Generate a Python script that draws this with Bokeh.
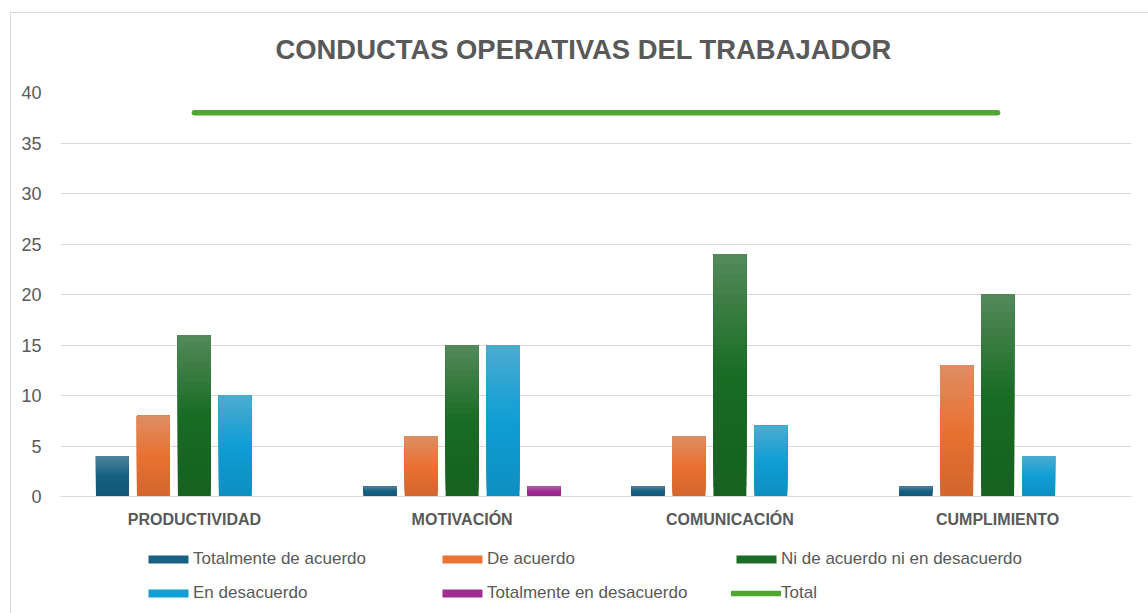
from bokeh.plotting import figure
from bokeh.models import (ColumnDataSource, FactorRange, FixedTicker, Legend, LegendItem)
from bokeh.transform import dodge
from bokeh.embed import file_html
from bokeh.resources import INLINE

# ---- data ----
categories = ["PRODUCTIVIDAD", "MOTIVACIÓN", "COMUNICACIÓN", "CUMPLIMIENTO"]
series_names = ["Totalmente de acuerdo", "De acuerdo", "Ni de acuerdo ni en desacuerdo",
                "En desacuerdo", "Totalmente en desacuerdo"]
totalmente_de_acuerdo = [4, 1, 1, 1]
de_acuerdo = [8, 6, 6, 13]
ni_de_acuerdo = [16, 15, 24, 20]
en_desacuerdo = [10, 15, 7, 4]
totalmente_en_desacuerdo = [0, 1, 0, 0]
total = [38, 38, 38, 38]
y_ticks = [0, 5, 10, 15, 20, 25, 30, 35, 40]

series_values = [totalmente_de_acuerdo, de_acuerdo, ni_de_acuerdo, en_desacuerdo,
                 totalmente_en_desacuerdo]
colors = ["#156082", "#E97132", "#196B24", "#0F9ED5", "#A02B93"]
total_color = "#4EA72E"
offsets = [-0.306, -0.153, 0.0, 0.153, 0.306]
BAR_W = 0.123
NSEG = 24

def hex2rgb(h):
    h = h.lstrip("#")
    return [int(h[i:i + 2], 16) for i in (0, 2, 4)]

def rgb2hex(c):
    return "#%02x%02x%02x" % tuple(max(0, min(255, int(round(v)))) for v in c)

def grad_color(base, f):
    # f = 0 bottom, 1 top
    b = hex2rgb(base)
    top = [v + (255 - v) * 0.22 for v in b]
    top = [0.85 * v + 0.15 * 128 for v in top]
    bot = [v * 0.9 for v in b]
    if f >= 0.5:
        t = (f - 0.5) / 0.5
        c = [b[i] + (top[i] - b[i]) * t for i in range(3)]
    else:
        t = f / 0.5
        c = [bot[i] + (b[i] - bot[i]) * t for i in range(3)]
    return rgb2hex(c)

TEXT = "#595959"
GRID = "#d9d9d9"

# frame runs to the bottom of the figure so the legend can live inside it;
# the category axis is pinned at y = 0
p = figure(x_range=FactorRange(*categories), y_range=(-11.584, 40),
           width=1148, height=613, output_backend="svg", toolbar_location=None,
           min_border_left=60, min_border_right=17, min_border_top=92, min_border_bottom=0)
p.title.text = "CONDUCTAS OPERATIVAS DEL TRABAJADOR"
p.title.align = "left"
p.title.offset = 215
p.title.text_font = "Liberation Sans"
p.title.text_font_size = "27.4px"
p.title.text_font_style = "bold"
p.title.text_color = TEXT
p.title.standoff = 55
p.outline_line_color = None
p.background_fill_color = "white"
p.border_fill_alpha = 0
# light chart-area border (left and top edges, as in the reference crop)
p.styles = {
    "background": ("linear-gradient(#d9d9d9, #d9d9d9) 10px 12px / 1px 100% no-repeat, "
                   "linear-gradient(#d9d9d9, #d9d9d9) 10px 12px / 100% 1px no-repeat, white"),
}

legend_items = []
for si, (name, vals, col, off) in enumerate(zip(series_names, series_values, colors, offsets)):
    xs, bottoms, tops, cols = [], [], [], []
    for k in range(NSEG):
        f = (k + 0.5) / NSEG
        for cat, v in zip(categories, vals):
            xs.append(cat)
            bottoms.append(v * k / NSEG)
            tops.append(v)
            cols.append(grad_color(col, f))
    src = ColumnDataSource(dict(x=xs, bottom=bottoms, top=tops, color=cols))
    r = p.vbar(x=dodge("x", off, range=p.x_range), bottom="bottom", top="top", width=BAR_W,
               source=src, fill_color="color", line_color=None)
    legend_items.append(LegendItem(label=name, renderers=[r], index=(NSEG // 2) * len(categories)))

lr = p.line(x=categories, y=total, line_color=total_color, line_width=5.5, line_cap="round")
legend_items.append(LegendItem(label="Total", renderers=[lr]))

# axes
p.yaxis.ticker = FixedTicker(ticks=y_ticks)
p.yaxis.axis_line_color = None
p.yaxis.major_tick_line_color = None
p.yaxis.minor_tick_line_color = None
p.yaxis.major_label_text_font = "Liberation Sans"
p.yaxis.major_label_text_font_size = "18px"
p.yaxis.major_label_text_color = TEXT
p.yaxis.major_label_standoff = 13

p.xaxis.fixed_location = 0
p.xaxis.axis_line_color = GRID
p.xaxis.major_tick_line_color = None
p.xaxis.minor_tick_line_color = None
p.xaxis.major_label_text_font = "Liberation Sans"
p.xaxis.major_label_text_font_size = "16px"
p.xaxis.major_label_text_font_style = "bold"
p.xaxis.major_label_text_color = TEXT
p.xaxis.major_label_standoff = 8

p.xgrid.grid_line_color = None
p.ygrid.grid_line_color = GRID
p.ygrid.grid_line_width = 1

legend = Legend(items=legend_items, orientation="horizontal", ncols=3, location=(83, 10),
                glyph_width=50, glyph_height=10, label_standoff=0,
                label_width=230, label_height=20, spacing=14,
                label_text_font="Liberation Sans", label_text_font_size="17px",
                label_text_color=TEXT, border_line_color=None,
                background_fill_alpha=0, padding=0, margin=0)
p.add_layout(legend, "center")

open("out.html", "w").write(file_html(p, INLINE))
